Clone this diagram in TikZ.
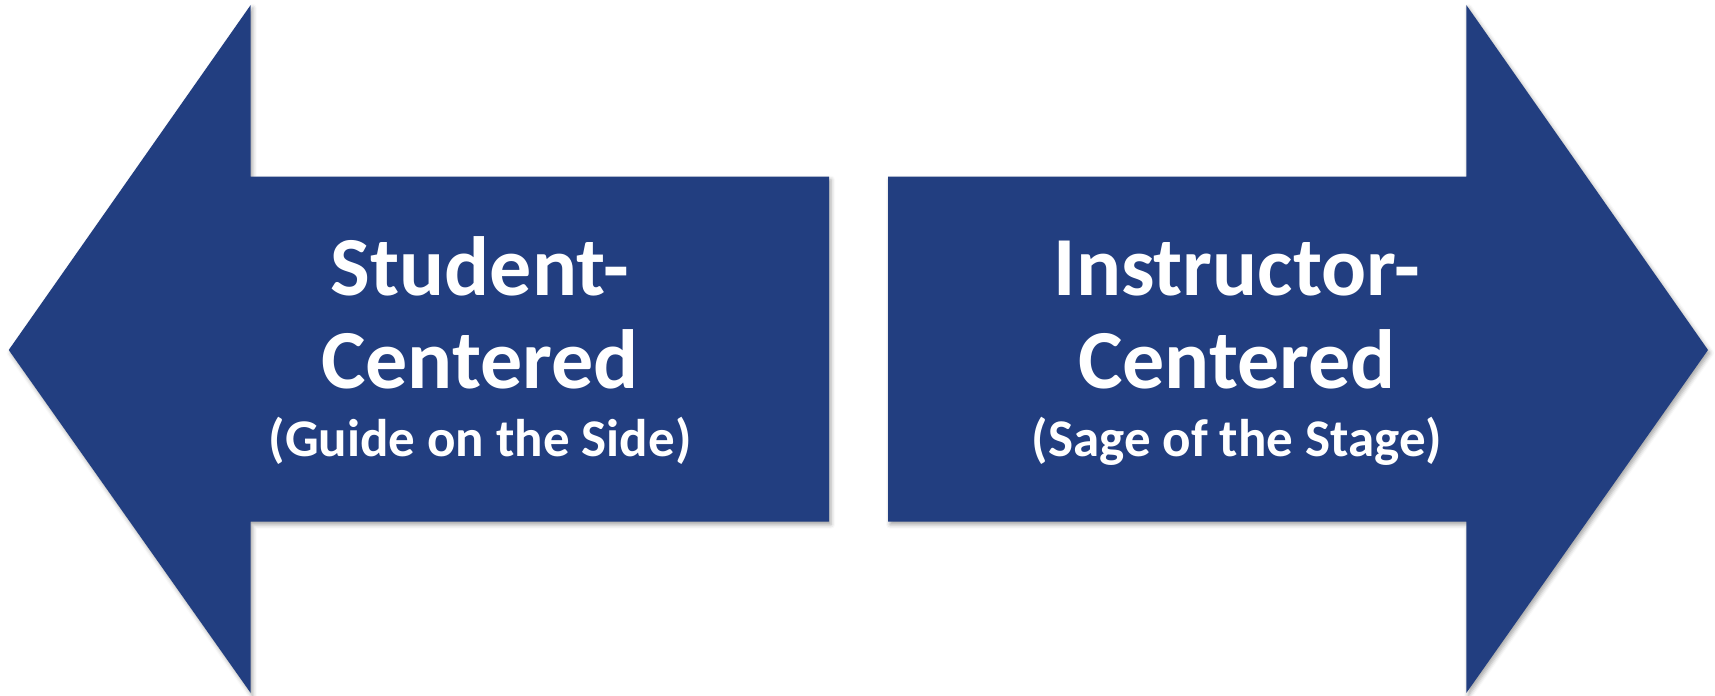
\documentclass[tikz,border=0pt]{standalone}
\usepackage{fontspec}
\setmainfont{Carlito}
\usetikzlibrary{positioning}
\usetikzlibrary{shadows.blur}
\definecolor{arrowblue}{RGB}{34,62,128}

\begin{document}
\begin{tikzpicture}[x=0.5pt,y=0.5pt]
\tikzset{
  bigarrow/.style={fill=arrowblue, draw=none,
    blur shadow={shadow xshift=1pt, shadow yshift=-1.5pt, shadow blur radius=2pt, shadow opacity=35}},
  bigtext/.style={text=white, anchor=base, font=\fontsize{42}{46}\selectfont\bfseries, inner sep=0pt},
  subtext/.style={text=white, anchor=base, font=\fontsize{26.5}{30}\selectfont\bfseries, inner sep=0pt}
}
\useasboundingbox (0,0) rectangle (1715,696);

% left arrow
\coordinate (LT) at (8.75,346);
\coordinate (LH1) at (250.7,691);
\coordinate (LS1) at (250.7,519.3);
\coordinate (LS2) at (829,519.3);
\coordinate (LS3) at (829,174.3);
\coordinate (LS4) at (250.7,174.3);
\coordinate (LH2) at (250.7,3);
\fill[bigarrow] (LT) -- (LH1) -- (LS1) -- (LS2) -- (LS3) -- (LS4) -- (LH2) -- cycle;

% right arrow
\coordinate (RT) at (1708,346);
\coordinate (RH1) at (1466.3,691);
\coordinate (RS1) at (1466.3,519.3);
\coordinate (RS2) at (888,519.3);
\coordinate (RS3) at (888,174.3);
\coordinate (RS4) at (1466.3,174.3);
\coordinate (RH2) at (1466.3,3);
\fill[bigarrow] (RT) -- (RH1) -- (RS1) -- (RS2) -- (RS3) -- (RS4) -- (RH2) -- cycle;

% labels
\node[bigtext] (student) at (480,400) {Student-};
\node[bigtext] (stucent) at (480,307) {Centered};
\node[subtext] (guide) at (480,239) {(Guide on the Side)};

\node[bigtext] (instructor) at (1237,400) {Instructor-};
\node[bigtext] (inscent) at (1237,307) {Centered};
\node[subtext] (sage) at (1237,239) {(Sage of the Stage)};
\end{tikzpicture}
\end{document}
